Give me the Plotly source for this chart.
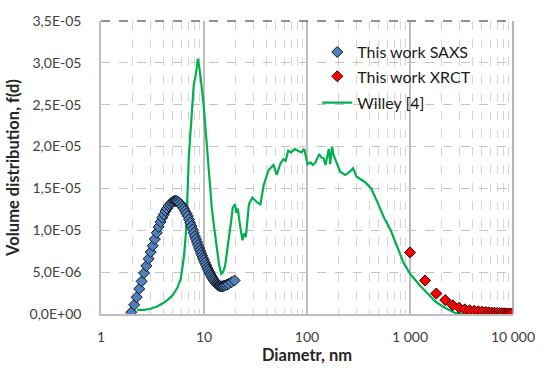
import plotly.graph_objects as go

# ---------------- data ----------------
saxs_d = [1.97, 2.10, 2.22, 2.35, 2.48, 2.62, 2.76, 2.90, 3.04, 3.18, 3.33, 3.48, 3.63, 3.78, 3.93,
          4.08, 4.23, 4.38, 4.53, 4.68, 4.83, 4.98, 5.13, 5.28, 5.43, 5.58, 5.75, 5.95, 6.15, 6.35,
          6.55, 6.75, 6.95, 7.15, 7.35, 7.55, 7.75, 7.95, 8.15, 8.35, 8.55, 8.75, 8.95, 9.15, 9.35,
          9.55, 9.75, 9.95, 10.2, 10.45, 10.7, 10.95, 11.2, 11.45, 11.7, 11.95, 12.2, 12.45, 12.7,
          12.95, 13.2, 13.45, 13.7, 13.95, 14.2, 14.5, 14.8, 15.1, 15.5, 16.0, 16.6, 17.3, 18.5, 19.8]
saxs_f_e6 = [0.2, 1.1, 2.0, 3.0, 3.9, 4.9, 5.75, 6.6, 7.4, 8.15, 8.95, 9.7, 10.4, 11.0, 11.5,
             11.9, 12.3, 12.6, 12.9, 13.1, 13.3, 13.4, 13.5, 13.5, 13.5, 13.4, 13.3, 13.1, 12.85, 12.6,
             12.3, 12.0, 11.7, 11.3, 10.9, 10.5, 10.1, 9.7, 9.3, 8.95, 8.6, 8.25, 7.9, 7.6, 7.3,
             7.0, 6.7, 6.45, 6.15, 5.85, 5.55, 5.3, 5.05, 4.8, 4.6, 4.4, 4.2, 4.05, 3.9,
             3.75, 3.65, 3.55, 3.45, 3.4, 3.35, 3.3, 3.3, 3.3, 3.35, 3.4, 3.5, 3.6, 3.8, 4.0]

xrct_d = [1000, 1400, 1800, 2200, 2600, 3000, 3400, 3800, 4200, 4600, 5000, 5400, 5800, 6200,
          6600, 7000, 7400, 7800, 8200, 8600, 9000, 9400, 9800]
xrct_f_e6 = [7.36, 4.0, 2.44, 1.66, 1.05, 0.75, 0.55, 0.45, 0.38, 0.32, 0.27, 0.23, 0.2, 0.17,
             0.15, 0.13, 0.11, 0.09, 0.08, 0.07, 0.06, 0.05, 0.04]

willey_d = [2.23, 2.6, 2.98, 3.5, 3.98, 4.5, 4.95, 5.5, 5.95, 6.4, 6.7, 6.88, 7.13, 7.4, 7.66, 7.96,
            8.3, 8.74, 9.2, 9.9, 10.6, 11.2, 11.9, 12.5, 13.2, 14.0, 14.7, 15.3, 16.0, 16.8, 17.7,
            18.4, 19.0, 20.0, 20.6, 21.3, 22.0, 22.8, 23.6, 24.5, 25.5, 26.3, 27.3, 29.5, 31.5, 33.0,
            35.3, 38.0, 42.4, 47.3, 50.9, 54.8, 58.9, 62.0, 65.7, 70.0, 76.0, 82.0, 88.0, 94.0, 101,
            108, 114, 121, 131, 138, 145, 151, 157, 163, 168, 175, 181, 188, 210, 235, 261, 280, 303,
            362, 420, 485, 560, 650, 750, 867, 1005, 1250, 1550, 1800, 2080, 2400, 2700, 3200, 5000, 8000]
willey_f_e6 = [0.5, 0.5, 0.6, 0.9, 1.28, 1.75, 2.24, 3.1, 4.2, 6.9, 10.0, 15.0, 18.9, 21.8, 24.3, 27.4,
               28.5, 30.5, 28.6, 25.1, 20.5, 16.5, 12.7, 10.5, 8.1, 5.9, 4.8, 5.0, 5.7, 7.5, 9.6,
               11.2, 12.7, 13.1, 12.1, 12.6, 11.2, 9.6, 8.8, 9.6, 9.2, 11.0, 13.1, 13.9, 13.5, 13.3,
               13.1, 15.4, 17.2, 17.8, 16.6, 17.9, 18.5, 18.3, 19.5, 19.3, 19.7, 19.5, 19.3, 19.7, 17.9,
               18.1, 17.8, 18.1, 19.1, 18.7, 18.6, 17.8, 19.0, 19.7, 17.9, 20.0, 19.0, 18.5, 17.0, 16.6, 17.0, 17.4, 16.4,
               15.8, 15.0, 13.3, 11.5, 10.0, 8.06, 6.1, 4.77, 3.4, 2.2, 1.4, 0.9, 0.45, 0.15, 0.03, 0.0, 0.0]

y_tickvals = [0, 5e-6, 1e-5, 1.5e-5, 2e-5, 2.5e-5, 3e-5, 3.5e-5]
y_ticktext = ["0,0E+00", "5,0E-06", "1,0E-05", "1,5E-05", "2,0E-05", "2,5E-05", "3,0E-05", "3,5E-05"]
x_tickvals = [1, 10, 100, 1000, 10000]
x_ticktext = ["1", "10", "100", "1 000", "10 000"]

# ---------------- figure ----------------
FONT = "Lato, 'Open Sans', sans-serif"
fig = go.Figure()

fig.add_trace(go.Scatter(
    x=willey_d, y=[v * 1e-6 for v in willey_f_e6], mode="lines", name="Willey [4]",
    line=dict(color="#00B050", width=2.2), legend="legend3"))
fig.add_trace(go.Scatter(
    x=saxs_d, y=[v * 1e-6 for v in saxs_f_e6], mode="markers", name="This work SAXS",
    marker=dict(symbol="diamond", size=8.5, color="#4F81BD", line=dict(color="#141420", width=1)),
    legend="legend"))
fig.add_trace(go.Scatter(
    x=xrct_d, y=[v * 1e-6 for v in xrct_f_e6], mode="markers", name="This work XRCT",
    marker=dict(symbol="diamond", size=8.5, color="#FF0000", line=dict(color="#300000", width=1)),
    legend="legend2"))

minor_vals = [m * 10 ** e for e in range(0, 4) for m in range(2, 10)]

legend_common = dict(x=0.525, xanchor="left", yanchor="middle", bgcolor="rgba(255,255,255,0)",
                     font=dict(family=FONT, size=16, color="#1a1a1a"), itemwidth=30)

fig.update_layout(
    width=547, height=372,
    margin=dict(l=100, r=25, t=15, b=56),
    paper_bgcolor="white", plot_bgcolor="white",
    font=dict(family=FONT, size=14, color="#404040"),
    showlegend=True,
    legend=dict(y=0.894, **legend_common),
    legend2=dict(y=0.811, **legend_common),
    legend3=dict(y=0.721, **legend_common),
    xaxis=dict(
        type="log", range=[0, 4],
        tickmode="array", tickvals=x_tickvals, ticktext=x_ticktext,
        showgrid=True, gridcolor="#BDBDBD", gridwidth=1.5,
        minor=dict(tickmode="array", tickvals=minor_vals, showgrid=True,
                   gridcolor="#D6D6D6", griddash="dash", gridwidth=1, ticks=""),
        showline=True, linecolor="#BFBFBF", linewidth=1.5,
        ticks="", ticklabelstandoff=9,
        tickfont=dict(family=FONT, size=14, color="#404040"),
        title=dict(text="<b>Diametr, nm</b>", font=dict(family=FONT, size=16.5, color="#262626"),
                   standoff=4),
        zeroline=False,
    ),
    yaxis=dict(
        range=[0, 3.5e-5],
        tickmode="array", tickvals=y_tickvals, ticktext=y_ticktext,
        showgrid=True, gridcolor="#C4C4C4", griddash="dash", gridwidth=1,
        showline=True, linecolor="#BFBFBF", linewidth=1.5,
        ticks="", ticklabelstandoff=15,
        tickfont=dict(family=FONT, size=14, color="#404040"),
        title=dict(text="<b>Volume distribution, f(d)</b>",
                   font=dict(family=FONT, size=16.5, color="#262626"), standoff=6),
        zeroline=False,
    ),
    shapes=[
        dict(type="line", xref="paper", yref="paper", x0=0, x1=1, y0=1, y1=1,
             line=dict(color="#6E6E6E", width=1.5, dash="dash"), layer="above"),
        dict(type="line", xref="paper", yref="paper", x0=1, x1=1, y0=0, y1=1,
             line=dict(color="#9A9A9A", width=1.5), layer="above"),
    ],
)

fig.write_html("out.html")
